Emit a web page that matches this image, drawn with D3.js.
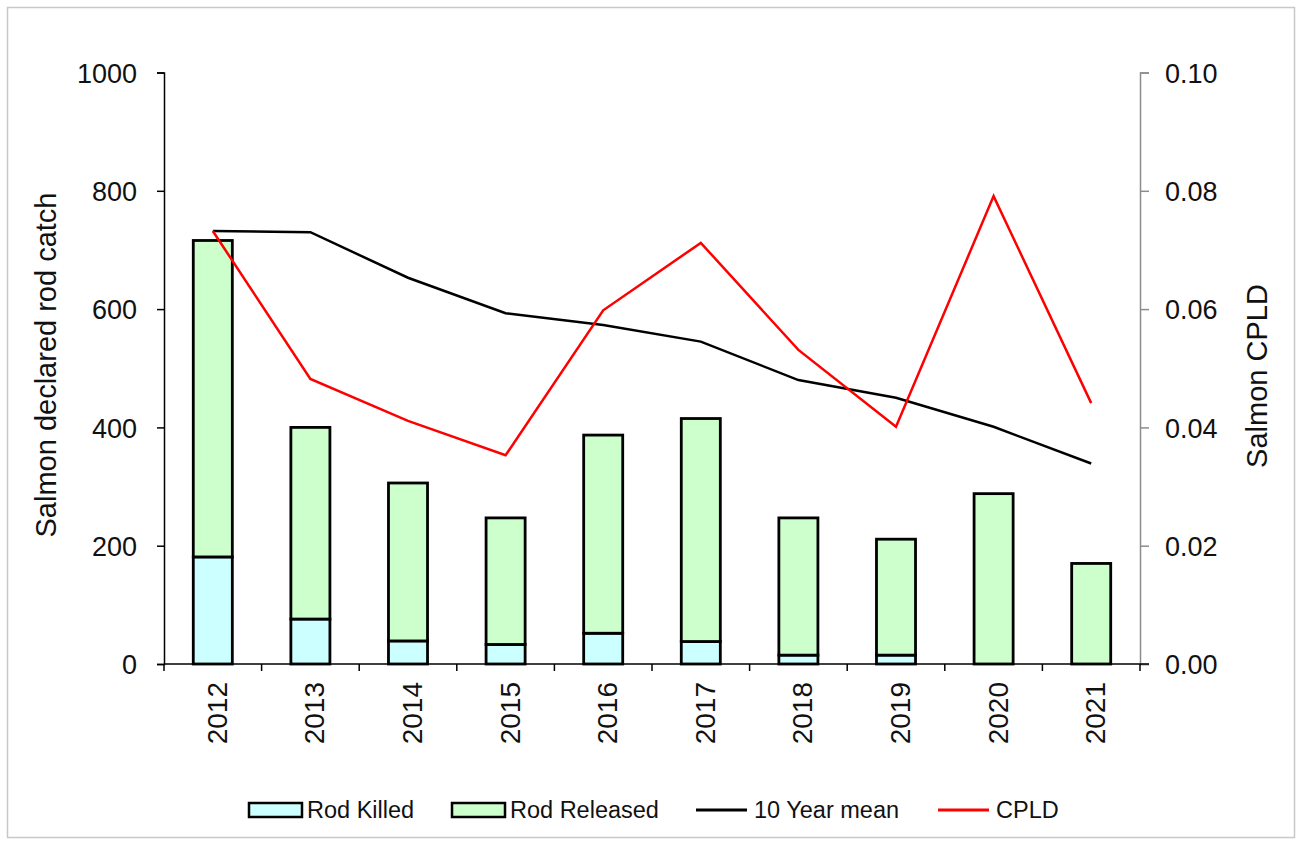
<!DOCTYPE html>
<html>
<head>
    <meta charset='utf-8' />
    <title>Salmon declared rod catch</title>
    <script src="https://d3js.org/d3.v7.min.js" charset="utf-8"></script>
    <style>
        body {
            margin: 0;
            background: #fff;
            font-family: "Liberation Sans", Arial, sans-serif;
        }
        .tick text {
            font-family: "Liberation Sans", Arial, sans-serif;
            font-size: 27px;
            fill: #111;
        }
        .label {
            font-size: 28px;
            fill: #111;
        }
        .title {
            font-size: 29px;
            fill: #111;
        }
        .legend text {
            font-size: 23.5px;
            fill: #111;
        }
    </style>
</head>
<body>
<svg class="chart"></svg>

<script>

// data
var years = ["2012", "2013", "2014", "2015", "2016", "2017", "2018", "2019", "2020", "2021"];
var rodKilled = [181, 76, 39, 33, 52, 38, 15, 15, 0, 0];
var rodReleased = [535, 324, 267, 214, 335, 377, 232, 196, 288, 170];
var tenYearMean = [0.0732, 0.0730, 0.0653, 0.0593, 0.0573, 0.0545, 0.0480, 0.0450, 0.0401, 0.0339];
var cpld = [0.0732, 0.0482, 0.0411, 0.0353, 0.0598, 0.0712, 0.0531, 0.0401, 0.0791, 0.0441];

var leftTicks = [0, 200, 400, 600, 800, 1000];
var rightTicks = [0, 0.02, 0.04, 0.06, 0.08, 0.10];

var W = 1298, H = 841;
var plot = {left: 164, right: 1140, top: 72.5, bottom: 664};

var svg = d3.select(".chart")
    .attr("width", W)
    .attr("height", H);

// outer frame
svg.append("rect")
    .attr("x", 7.5).attr("y", 7.5)
    .attr("width", 1287).attr("height", 830)
    .attr("fill", "#fff")
    .attr("stroke", "#c8c8c8")
    .attr("stroke-width", 1.5);

var x = d3.scaleBand()
    .domain(years)
    .range([plot.left, plot.right])
    .paddingInner(0.6)
    .paddingOuter(0.3);

var y = d3.scaleLinear()
    .domain([0, 1000])
    .range([plot.bottom, plot.top]);

var y2 = d3.scaleLinear()
    .domain([0, 0.1])
    .range([plot.bottom, plot.top]);

// stacked bars
var rows = years.map(function(d, i) {
    return {year: d, killed: rodKilled[i], released: rodReleased[i]};
});
var stacked = d3.stack().keys(["killed", "released"])(rows);
var fills = {killed: "#ccffff", released: "#ccffcc"};

var layers = svg.append("g").selectAll("g")
    .data(stacked)
    .enter().append("g")
    .attr("fill", function(d) { return fills[d.key]; });

layers.selectAll("rect")
    .data(function(d) { return d; })
    .enter().append("rect")
    .attr("x", function(d) { return x(d.data.year); })
    .attr("width", x.bandwidth())
    .attr("y", function(d) { return y(d[1]); })
    .attr("height", function(d) { return y(d[0]) - y(d[1]); })
    .attr("stroke", "#000")
    .attr("stroke-width", function(d) { return d[1] - d[0] > 0 ? 2.8 : 0; });

// left axis
var yAxis = d3.axisLeft(y).tickValues(leftTicks).tickSize(7).tickPadding(20)
    .tickFormat(d3.format("d"));
var gy = svg.append("g")
    .attr("transform", "translate(" + plot.left + ",0)")
    .call(yAxis);
gy.select(".domain").attr("stroke", "#000").attr("stroke-width", 1.5);
gy.selectAll(".tick line").attr("stroke", "#000").attr("stroke-width", 1.5);
gy.selectAll(".tick text").attr("dy", "0.36em");

// right axis
var y2Axis = d3.axisRight(y2).tickValues(rightTicks).tickSize(9).tickPadding(16)
    .tickFormat(d3.format(".2f"));
var gy2 = svg.append("g")
    .attr("transform", "translate(" + plot.right + ",0)")
    .call(y2Axis);
gy2.select(".domain").attr("stroke", "#8c8c8c").attr("stroke-width", 1.5);
gy2.selectAll(".tick line").attr("stroke", "#8c8c8c").attr("stroke-width", 1.5);
gy2.selectAll(".tick text").attr("dy", "0.36em");

// x axis: baseline, boundary ticks and rotated year labels
var gx = svg.append("g");
gx.append("line")
    .attr("x1", plot.left).attr("x2", plot.right + 9)
    .attr("y1", plot.bottom).attr("y2", plot.bottom)
    .attr("stroke", "#000").attr("stroke-width", 1.5);
gx.selectAll(".xtick")
    .data(d3.range(years.length + 1))
    .enter().append("line")
    .attr("class", "xtick")
    .attr("x1", function(i) { return plot.left + i * x.step(); })
    .attr("x2", function(i) { return plot.left + i * x.step(); })
    .attr("y1", plot.bottom).attr("y2", plot.bottom + 7)
    .attr("stroke", "#000").attr("stroke-width", 1.5);
gx.selectAll(".xlab")
    .data(years)
    .enter().append("text")
    .attr("class", "label xlab")
    .attr("text-anchor", "end")
    .attr("transform", function(d) {
        return "translate(" + (x(d) + x.bandwidth() / 2 + 14) + "," + (plot.bottom + 18) + ") rotate(-90)";
    })
    .text(function(d) { return d; });

// lines
var line = d3.line()
    .x(function(d, i) { return x(years[i]) + x.bandwidth() / 2; })
    .y(function(d) { return y2(d); });

svg.append("path")
    .datum(tenYearMean)
    .attr("fill", "none")
    .attr("stroke", "#000")
    .attr("stroke-width", 2.5)
    .attr("d", line);

svg.append("path")
    .datum(cpld)
    .attr("fill", "none")
    .attr("stroke", "#ff0000")
    .attr("stroke-width", 2.5)
    .attr("d", line);

// axis titles
svg.append("text")
    .attr("class", "title")
    .attr("text-anchor", "middle")
    .attr("transform", "translate(56,365) rotate(-90)")
    .text("Salmon declared rod catch");

svg.append("text")
    .attr("class", "title")
    .attr("text-anchor", "middle")
    .attr("transform", "translate(1267,376) rotate(-90)")
    .text("Salmon CPLD");

// legend
var legend = svg.append("g").attr("class", "legend");
var legendItems = [
    {name: "Rod Killed", type: "rect", color: "#ccffff", x: 249},
    {name: "Rod Released", type: "rect", color: "#ccffcc", x: 452},
    {name: "10 Year mean", type: "line", color: "#000", x: 696},
    {name: "CPLD", type: "line", color: "#ff0000", x: 938}
];
var ly = 810;
legendItems.forEach(function(d) {
    if (d.type === "rect") {
        legend.append("rect")
            .attr("x", d.x).attr("y", ly - 7)
            .attr("width", 53).attr("height", 14)
            .attr("fill", d.color)
            .attr("stroke", "#000").attr("stroke-width", 2.5);
    } else {
        legend.append("line")
            .attr("x1", d.x).attr("x2", d.x + 51)
            .attr("y1", ly).attr("y2", ly)
            .attr("stroke", d.color).attr("stroke-width", 3);
    }
    legend.append("text")
        .attr("x", d.x + 58)
        .attr("y", ly + 8)
        .text(d.name);
});

</script>
</body>
</html>
